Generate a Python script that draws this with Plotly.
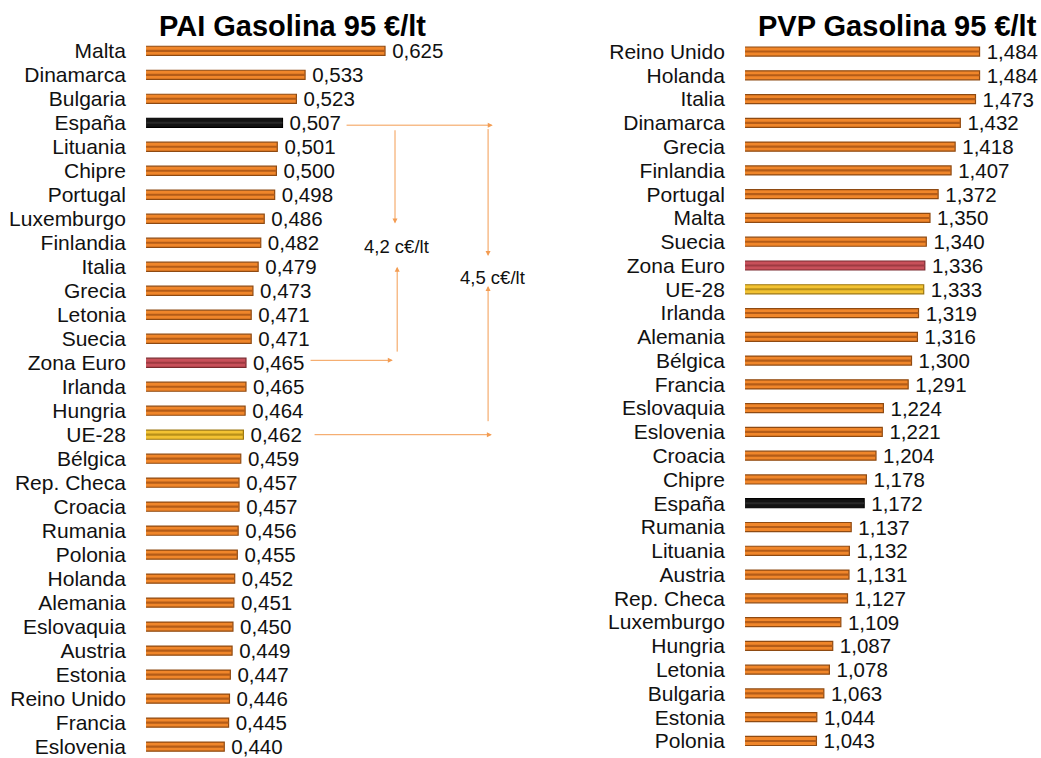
import plotly.graph_objects as go

# PAI (precio antes de impuestos) gasolina 95, €/lt
pai_paises = ["Malta", "Dinamarca", "Bulgaria", "España", "Lituania", "Chipre", "Portugal",
              "Luxemburgo", "Finlandia", "Italia", "Grecia", "Letonia", "Suecia", "Zona Euro",
              "Irlanda", "Hungria", "UE-28", "Bélgica", "Rep. Checa", "Croacia", "Rumania",
              "Polonia", "Holanda", "Alemania", "Eslovaquia", "Austria", "Estonia",
              "Reino Unido", "Francia", "Eslovenia"]
pai_valores = [0.625, 0.533, 0.523, 0.507, 0.501, 0.500, 0.498, 0.486, 0.482, 0.479, 0.473,
               0.471, 0.471, 0.465, 0.465, 0.464, 0.462, 0.459, 0.457, 0.457, 0.456, 0.455,
               0.452, 0.451, 0.450, 0.449, 0.447, 0.446, 0.445, 0.440]

# PVP gasolina 95, €/lt
pvp_paises = ["Reino Unido", "Holanda", "Italia", "Dinamarca", "Grecia", "Finlandia", "Portugal",
              "Malta", "Suecia", "Zona Euro", "UE-28", "Irlanda", "Alemania", "Bélgica",
              "Francia", "Eslovaquia", "Eslovenia", "Croacia", "Chipre", "España", "Rumania",
              "Lituania", "Austria", "Rep. Checa", "Luxemburgo", "Hungria", "Letonia",
              "Bulgaria", "Estonia", "Polonia"]
pvp_valores = [1.484, 1.484, 1.473, 1.432, 1.418, 1.407, 1.372, 1.350, 1.340, 1.336, 1.333,
               1.319, 1.316, 1.300, 1.291, 1.224, 1.221, 1.204, 1.178, 1.172, 1.137, 1.132,
               1.131, 1.127, 1.109, 1.087, 1.078, 1.063, 1.044, 1.043]

FONT = "Liberation Sans, Arial, sans-serif"
ARROW = "#F39C52"

# relleno, borde y linea interior de cada barra
ESTILOS = {
    "España": ("#141414", "#000000", "#2a2a2a"),
    "Zona Euro": ("#C8505A", "#7A2A30", "#9E3A42"),
    "UE-28": ("#F2C232", "#9C760E", "#B8901A"),
}
NORMAL = ("#F0862A", "#8E4A12", "#B45C18")


def estilo(paises, i):
    return [ESTILOS.get(p, NORMAL)[i] for p in paises]


fig = go.Figure()

for paises, valores, xa, ya in [(pai_paises, pai_valores, "x", "y"),
                                (pvp_paises, pvp_valores, "x2", "y2")]:
    pos = list(range(len(paises)))
    fig.add_trace(go.Bar(
        x=valores, y=pos, orientation="h", width=0.38,
        marker=dict(color=estilo(paises, 0), line=dict(color=estilo(paises, 1), width=1.2)),
        texttemplate="\u2009%{x:.3f}", textposition="outside", constraintext="none",
        textfont=dict(family=FONT, size=20.5, color="#111111"), cliponaxis=False,
        xaxis=xa, yaxis=ya, showlegend=False,
    ))
    # linea interior que da el efecto de relieve
    fig.add_trace(go.Bar(
        x=valores, y=pos, orientation="h", width=0.09,
        marker=dict(color=estilo(paises, 2), line=dict(width=0)),
        xaxis=xa, yaxis=ya, showlegend=False, hoverinfo="skip",
    ))

ejes_y = dict(showgrid=False, zeroline=False, showline=False, ticks="outside", ticklen=15,
              tickcolor="rgba(0,0,0,0)", ticklabeloverflow="allow",
              tickfont=dict(family=FONT, size=21, color="#111111"))
ejes_x = dict(visible=False, showgrid=False, zeroline=False)

fig.update_layout(
    width=1041, height=758,
    margin=dict(l=0, r=0, t=0, b=0),
    paper_bgcolor="white", plot_bgcolor="white",
    barmode="overlay", separators=",.",
    font=dict(family=FONT, color="#111111"),
    xaxis=dict(ejes_x, range=[0.35, 0.75], domain=[0.1403, 0.4742]),
    yaxis=dict(ejes_y, range=[29.35, -0.5], domain=[0, 0.9486],
               tickvals=list(range(len(pai_paises))), ticktext=pai_paises),
    xaxis2=dict(ejes_x, range=[0.85, 1.6], domain=[0.7157, 0.9822], anchor="y2"),
    yaxis2=dict(ejes_y, range=[29.59, -0.5], domain=[0, 0.9475], anchor="x2",
                tickvals=list(range(len(pvp_paises))), ticktext=pvp_paises),
)

# titulos
for texto, xt in [("PAI Gasolina 95 €/lt", 0.2805), ("PVP Gasolina 95 €/lt", 0.8617)]:
    fig.add_annotation(text="<b>" + texto + "</b>", xref="paper", yref="paper",
                       x=xt, y=0.966, xanchor="center", yanchor="middle", showarrow=False,
                       font=dict(family=FONT, size=29, color="#000"))

# diferencias de España con Zona Euro y UE-28
flechas = [
    # (x cabeza, y cabeza, x cola, y cola)
    (0.749, 3.1, 0.579, 3.1),
    (0.6365, 7.2, 0.6365, 3.25),
    (0.639, 9.0, 0.639, 12.6),
    (0.634, 12.9, 0.5376, 12.9),
    (0.7436, 8.55, 0.7436, 3.2),
    (0.7436, 9.8, 0.7436, 15.5),
    (0.748, 16.0, 0.5422, 16.0),
]
for xh, yh, xt, yt in flechas:
    fig.add_annotation(x=xh, y=yh, ax=xt, ay=yt, xref="x", yref="y", axref="x", ayref="y",
                       text="", showarrow=True, arrowhead=2, arrowsize=1, arrowwidth=1,
                       arrowcolor=ARROW)

fig.add_annotation(text="4,2 c€/lt", x=0.6377, y=8.15, xref="x", yref="y", showarrow=False,
                   font=dict(family=FONT, size=18.5, color="#111111"))
fig.add_annotation(text="4,5 c€/lt", x=0.749, y=9.45, xref="x", yref="y", showarrow=False,
                   font=dict(family=FONT, size=18.5, color="#111111"))

fig.write_html("out.html", config={"displayModeBar": False},
               post_script="document.body.style.margin = '0px';")
